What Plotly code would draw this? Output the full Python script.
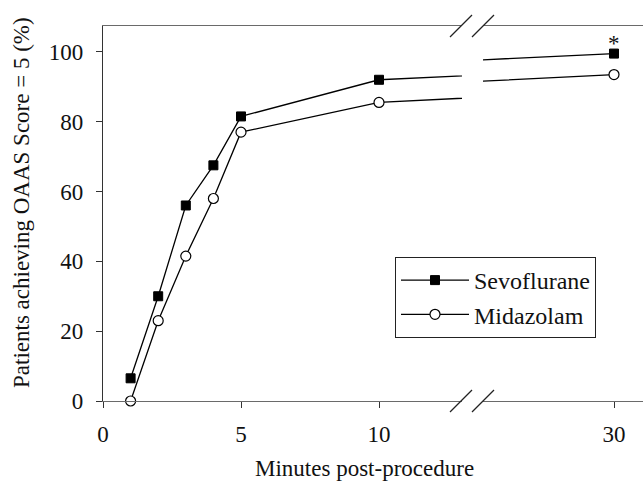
import plotly.graph_objects as go

# ---- data ----
minutes = [1, 2, 3, 4, 5, 10, 30]
sevoflurane = [6.5, 30, 56, 67.5, 81.5, 92, 99.5]
midazolam = [0, 23, 41.5, 58, 77, 85.5, 93.5]
x_ticks_left = [0, 5, 10]
x_ticks_right = [30]
y_ticks = [0, 20, 40, 60, 80, 100]

# ---- layout geometry (pixels) ----
W, H = 643, 481
L, R, T, B = 103, 0, 26, 80
PW, PH = W - L - R, H - T - B
BRK1, BRK2 = 462, 483            # pixel x where the axis breaks
PXU = 27.6                       # pixels per minute
YTOP = 107.4

def xp(px):
    return (px - L) / PW

def yp(py):
    return (H - B - py) / PH

FONT = "Liberation Serif, Times New Roman, serif"
FS = 23

fig = go.Figure()

series = [
    ("Sevoflurane", sevoflurane, dict(symbol="square", size=9, color="black",
                                      line=dict(color="black", width=1))),
    ("Midazolam", midazolam, dict(symbol="circle", size=10, color="white",
                                  line=dict(color="black", width=1.2))),
]

for name, vals, mk in series:
    fig.add_trace(go.Scatter(x=minutes, y=vals, name=name, mode="lines+markers",
                             line=dict(color="black", width=1.3), marker=mk,
                             xaxis="x", yaxis="y", cliponaxis=False, showlegend=True))
    fig.add_trace(go.Scatter(x=minutes, y=vals, name=name, mode="lines+markers",
                             line=dict(color="black", width=1.3), marker=mk,
                             xaxis="x2", yaxis="y", cliponaxis=True, showlegend=False))

axis_common = dict(showgrid=False, zeroline=False, showline=True, linecolor="#6a6a6a",
                   linewidth=1.3, mirror=True, ticks="outside", ticklen=6, tickwidth=1.2,
                   tickcolor="#333", tickfont=dict(family=FONT, size=FS, color="#111"),
                   ticklabelstandoff=6)

fig.update_layout(
    width=W, height=H,
    margin=dict(l=L, r=R, t=T, b=B, pad=0),
    paper_bgcolor="white", plot_bgcolor="white",
    font=dict(family=FONT, size=FS, color="#111"),
    xaxis=dict(domain=[0, xp(BRK1)], range=[0, (BRK1 - L) / PXU],
               tickmode="array", tickvals=x_ticks_left, ticktext=[str(v) for v in x_ticks_left],
               anchor="y", **axis_common),
    xaxis2=dict(domain=[xp(BRK2), 1], range=[30 - (614 - BRK2) / PXU, 30 + (W - 614) / PXU],
                tickmode="array", tickvals=x_ticks_right, ticktext=[str(v) for v in x_ticks_right],
                anchor="y", **axis_common),
    yaxis=dict(domain=[0, 1], range=[0, YTOP], showgrid=False, zeroline=False,
               showline=True, linecolor="#333", linewidth=1.3, mirror=False,
               ticks="outside", ticklen=6, tickwidth=1.2, tickcolor="#333",
               tickmode="array", tickvals=y_ticks,
               tickfont=dict(family=FONT, size=FS, color="#111"),
               ticklabelstandoff=8, anchor="x"),
    legend=dict(x=xp(395), y=yp(257), xanchor="left", yanchor="top",
                bordercolor="#222", borderwidth=1, bgcolor="white",
                font=dict(family=FONT, size=24, color="#111"),
                itemwidth=68, tracegroupgap=0),
    showlegend=True,
)

# axis titles
fig.add_annotation(text="Minutes post-procedure", xref="paper", yref="paper",
                   x=xp(364), y=yp(468), xanchor="center", yanchor="middle", showarrow=False,
                   font=dict(family=FONT, size=FS, color="#111"))
fig.add_annotation(text="Patients achieving OAAS Score = 5 (%)", xref="paper", yref="paper",
                   x=xp(21), y=yp(203), xanchor="center", yanchor="middle",
                   showarrow=False, textangle=-90,
                   font=dict(family=FONT, size=FS, color="#111"))

# significance marker
fig.add_annotation(text="*", xref="x2", yref="y", x=minutes[-1], y=sevoflurane[-1],
                   showarrow=False, yanchor="middle", yshift=10,
                   font=dict(family=FONT, size=FS, color="#111"))

# axis-break slashes (top and bottom)
for cy in (T, H - B):
    for cx in (461, 483):
        fig.add_shape(type="line", xref="paper", yref="paper",
                      x0=xp(cx - 11), y0=yp(cy + 11), x1=xp(cx + 11), y1=yp(cy - 11),
                      line=dict(color="#222", width=1.3))

fig.write_html("out.html")
